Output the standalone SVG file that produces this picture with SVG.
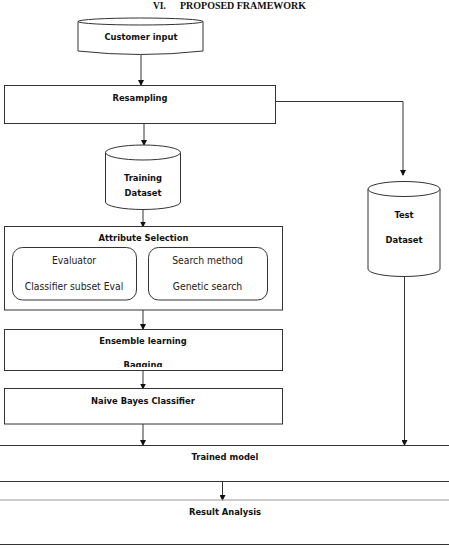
<svg xmlns="http://www.w3.org/2000/svg" width="449" height="558" viewBox="0 0 449 558">
<style>
.s{fill:#fff;stroke:#333;stroke-width:1}
.c{fill:none;stroke:#333;stroke-width:1}
.b{font-family:"DejaVu Sans Condensed","DejaVu Sans",sans-serif;font-stretch:condensed;font-weight:bold;font-size:9.3px;fill:#111;text-anchor:middle}
.n{font-family:"DejaVu Sans Condensed","DejaVu Sans",sans-serif;font-stretch:condensed;font-size:10.3px;fill:#222;text-anchor:middle}
.t{font-family:"Liberation Serif",serif;font-weight:bold;font-size:9.5px;fill:#111}
</style>
<defs>
<marker id="ah" markerWidth="6" markerHeight="6" refX="5" refY="3" orient="auto" markerUnits="userSpaceOnUse">
<path d="M0,0 L6,3 L0,6 Z" fill="#111"/>
</marker>
<clipPath id="ensClip"><rect x="4" y="329" width="279" height="38"/></clipPath>
</defs>
<text class="t" x="153" y="9">VI.</text>
<text class="t" x="180" y="9" textLength="126" lengthAdjust="spacingAndGlyphs">PROPOSED FRAMEWORK</text>

<g id="connectors">
<line class="c" x1="141" y1="55" x2="141" y2="85" marker-end="url(#ah)"/>
<line class="c" x1="144" y1="123" x2="144" y2="145" marker-end="url(#ah)"/>
<polyline class="c" points="275,101.5 403,101.5 403,175" marker-end="url(#ah)"/>
<line class="c" x1="143" y1="210" x2="143" y2="226.5" marker-end="url(#ah)"/>
<line class="c" x1="143" y1="310" x2="143" y2="329" marker-end="url(#ah)"/>
<line class="c" x1="143" y1="371" x2="143" y2="388.5" marker-end="url(#ah)"/>
<line class="c" x1="143" y1="424" x2="143" y2="445" marker-end="url(#ah)"/>
<line class="c" x1="404.5" y1="277" x2="404.5" y2="445" marker-end="url(#ah)"/>
<line class="c" x1="222.5" y1="482" x2="222.5" y2="500" marker-end="url(#ah)"/>
</g>

<g id="customer-input">
<path class="s" d="M78,21.5 L78,51 Q140.5,58 203,51 L203,21.5"/>
<ellipse class="s" cx="140.5" cy="21.5" rx="62.5" ry="3.5"/>
<text class="b" x="141" y="39.5">Customer input</text>
</g>

<g id="resampling">
<rect class="s" x="4.5" y="85.5" width="271" height="38"/>
<text class="b" x="140" y="100.5">Resampling</text>
</g>

<g id="training-dataset">
<path class="s" d="M105.5,152.5 L105.5,202 A37.5,7.5 0 0 0 180.5,202 L180.5,152.5"/>
<ellipse class="s" cx="143" cy="152.5" rx="37.5" ry="7.5"/>
<text class="b" x="143" y="180.5">Training</text>
<text class="b" x="143" y="195.5">Dataset</text>
</g>

<g id="test-dataset">
<path class="s" d="M368,189 L368,269 A36,7.5 0 0 0 440,269 L440,189"/>
<ellipse class="s" cx="404" cy="189" rx="36" ry="7.5"/>
<text class="b" x="404" y="217.5">Test</text>
<text class="b" x="404" y="243">Dataset</text>
</g>

<g id="attribute-selection">
<rect class="s" x="4.5" y="226.5" width="278" height="83.5"/>
<text class="b" x="143.5" y="241">Attribute Selection</text>
<rect class="s" x="12.5" y="247.5" width="124" height="52.5" rx="10"/>
<text class="n" x="74" y="263.5">Evaluator</text>
<text class="n" x="74" y="289.5">Classifier subset Eval</text>
<rect class="s" x="148.5" y="247.5" width="119" height="52.5" rx="10"/>
<text class="n" x="207.5" y="263.5">Search method</text>
<text class="n" x="207.5" y="289.5">Genetic search</text>
</g>

<g id="ensemble-learning">
<rect class="s" x="4.5" y="329.5" width="278" height="41"/>
<text class="b" x="143" y="344">Ensemble learning</text>
<text class="b" x="143" y="367.5" clip-path="url(#ensClip)">Bagging</text>
</g>

<g id="naive-bayes">
<rect class="s" x="4.5" y="388.5" width="278" height="35.5"/>
<text class="b" x="143" y="403.5">Naive Bayes Classifier</text>
</g>

<g id="trained-model">
<line class="c" x1="0" y1="445.5" x2="449" y2="445.5"/>
<line class="c" x1="0" y1="481.5" x2="449" y2="481.5"/>
<text class="b" x="225" y="459.5">Trained model</text>
</g>

<g id="result-analysis">
<line x1="0" y1="500" x2="449" y2="500" stroke="#999" stroke-width="1.2"/>
<line class="c" x1="0" y1="544.5" x2="449" y2="544.5"/>
<text class="b" x="225" y="514.5">Result Analysis</text>
</g>
</svg>
